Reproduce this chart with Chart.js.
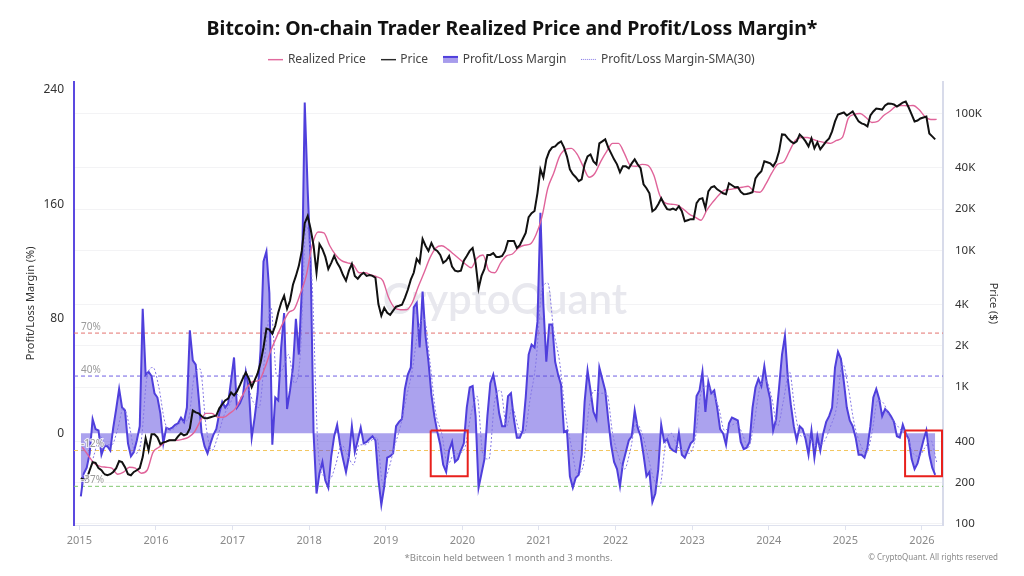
<!DOCTYPE html>
<html>
<head>
<meta charset="utf-8">
<style>
  html, body { margin: 0; padding: 0; background: #fff; }
  canvas { display: block; }
</style>
<script src="https://cdn.jsdelivr.net/npm/chart.js@4/dist/chart.umd.js"></script>
</head>
<body>
<canvas id="chart" width="1024" height="576"></canvas>
<script>
/* global Chart */
const seriesNames = ['Realized Price', 'Price', 'Profit/Loss Margin', 'Profit/Loss Margin-SMA(30)']
const yearTicks = [2015, 2016, 2017, 2018, 2019, 2020, 2021, 2022, 2023, 2024, 2025, 2026]
const marginTicks = [0, 80, 160, 240]
const priceTicks = [100, 200, 400, 1000, 2000, 4000, 10000, 20000, 40000, 100000]
const priceTickLabels = ['100', '200', '400', '1K', '2K', '4K', '10K', '20K', '40K', '100K']

// two samples a month
const marginValues = [
  -44, -28, -24, -14, 10, 3, 2, -15, -9, -9, -12, 4, 17, 31, 18, 16, -7, -16, -13, -5, 5, 87, 41, 43, 40, 28,
  25, 14, -7, 4, 3, 4, 6, 7, 11, 8, 18, 72, 51, 48, 25, 0, -9, -14, -7, -1, 3, 14, 22, 18, 21, 37,
  53, 18, 21, 26, 43, 32, -3, 11, 28, 58, 120, 127, 98, -8, 25, 23, 60, 84, 17, 30, 46, 80, 55, 100, 231, 170,
  120, 0, -42, -28, -20, -33, -38, -16, -2, 6, -8, -18, -27, -16, 5, -13, -5, 4, -7, -6, -4, -2, -5, -32, -50, -37,
  -17, -16, -14, 5, 8, 10, 31, 41, 46, 88, 91, 60, 99, 68, 50, 27, 12, 1, -8, -22, -27, -12, -6, -20, -18, -12,
  -7, 18, 32, 33, 12, -38, -28, -18, 12, 35, 41, 30, 14, 5, 5, 26, 28, 10, -3, -3, 2, 25, 55, 62, 60, 78,
  154, 90, 50, 76, 76, 50, 41, 34, 1, 2, -30, -38, -31, -29, -15, 22, 44, 30, 15, 10, 46, 38, 30, 10, -8, -20,
  -25, -37, -21, -13, -5, -2, 16, 4, -2, -15, -30, -27, -48, -42, -25, 6, -6, -4, -10, -12, -13, 0, -15, -17, -12, -7,
  -5, 26, 30, 43, 15, 36, 28, 30, 18, 3, 0, -8, 7, 11, 10, 9, -6, -11, -10, -6, 18, 32, 38, 33, 47, 33,
  24, 2, 10, 32, 55, 68, 38, 20, 5, -5, 5, 3, -4, -15, 2, -17, -2, -12, 0, 8, 12, 18, 46, 57, 52, 36,
  18, 9, 5, -3, -15, -15, -17, -10, 5, 25, 31, 24, 12, 17, 15, 12, 8, -2, -3, 6, 0, -4, -18, -25, -21, -13,
  -5, 2, -15, -24, -29,
]
const priceValues = [
  216, 210, 215, 247, 283, 280, 256, 247, 231, 227, 231, 240, 256, 288, 283, 260, 231, 227, 240, 247, 256, 308, 423, 346, 453, 453,
  430, 383, 395, 400, 409, 409, 409, 437, 460, 445, 453, 500, 676, 654, 643, 612, 592, 592, 602, 612, 622, 700, 750, 800, 825, 915,
  870, 930, 1035, 1160, 1280, 1160, 1000, 1120, 1260, 1510, 1950, 2680, 2630, 2460, 2810, 3500, 4140, 4650, 3740, 4280, 5600, 6500, 7700, 9900, 15800, 17800,
  14300, 10800, 6850, 11100, 10200, 8950, 7300, 8100, 9100, 8100, 7450, 6600, 6000, 7100, 7950, 6500, 6200, 6600, 6850, 6500, 6600, 6500, 6300, 4050, 3330, 3800,
  3500, 3380, 3620, 3870, 3930, 4000, 4500, 5150, 6100, 6850, 8650, 8100, 12100, 10800, 9900, 11300, 10200, 9900, 9250, 8100, 8400, 9100, 7600, 7100, 7000, 7100,
  8400, 9100, 9900, 10400, 8100, 5250, 6500, 7300, 9250, 9250, 9550, 8950, 8950, 9100, 9900, 11700, 11700, 11700, 10400, 10900, 12100, 13400, 17500, 18700, 19400, 26200,
  39100, 34200, 46200, 52900, 56500, 57500, 60500, 62500, 56500, 48600, 39100, 36000, 34200, 32000, 33000, 42500, 48600, 50200, 44700, 42500, 60500, 62500, 64700, 56500, 51100, 46200,
  42500, 37200, 41100, 41100, 39800, 43200, 46200, 42500, 39800, 30400, 28400, 26100, 19300, 20000, 21700, 24000, 21700, 20000, 19800, 20200, 19700, 21000, 19300, 16300, 16600, 16900,
  16900, 22100, 23700, 24000, 20300, 27000, 28900, 29400, 27900, 27000, 26100, 25700, 30900, 29900, 28900, 29000, 26800, 25700, 25800, 26100, 26600, 33600, 36000, 37800, 44700, 44000,
  43200, 41100, 44700, 52900, 70300, 70000, 65800, 62500, 60500, 62500, 70300, 66800, 62500, 57500, 65800, 55600, 61500, 54700, 58500, 62500, 65800, 74000, 87500, 98400, 100000, 101700,
  96700, 100000, 103400, 95100, 87500, 84600, 83200, 80400, 96700, 103400, 108700, 108000, 106900, 114400, 118200, 118000, 116300, 112400, 116000, 120200, 122300, 110600, 98400, 87500, 88900, 92000,
  93500, 95000, 71500, 68000, 64700,
]

// one sample every four weeks, these two are smooth enough
const realizedValues = [
  364, 318, 278, 264, 260, 256, 231, 239, 260, 256, 235, 247, 334,
  364, 395, 409, 409, 416, 430, 468, 562, 643, 643, 602, 602, 643,
  700, 841, 1000, 1100, 1120, 1390, 1850, 2340, 2910, 3500, 3740, 4810, 6500,
  10800, 13600, 13400, 10800, 9250, 8400, 8100, 7830, 6850, 6850, 6600, 6400, 6000,
  4500, 3800, 3680, 3680, 4140, 5400, 6850, 8800, 10400, 10800, 10200, 9400, 8650,
  7950, 7450, 8800, 9250, 7100, 6850, 8100, 9100, 9400, 10400, 10900, 11100, 13000,
  17500, 28400, 36600, 48600, 54700, 55600, 50200, 41100, 34200, 36600, 44700, 52900, 60500,
  60500, 51100, 41800, 41100, 42500, 41800, 35300, 25300, 22100, 21700, 21400, 20000, 18400,
  17500, 16600, 19700, 22500, 25300, 27500, 27900, 28400, 28900, 29400, 27000, 26600, 30400,
  36600, 42500, 44000, 52900, 63600, 66800, 66800, 64700, 62500, 61500, 60500, 63600, 66800,
  92000, 98400, 100000, 93500, 86000, 87500, 96700, 103400, 112400, 114400, 114000, 114400, 106900,
  95100, 90400, 90500,
]
const smaValues = [
  -35, -30, -15, -2, -8, -8, 3, 18, 5, -14, -5, 40, 46,
  32, 8, 2, 5, 8, 10, 40, 45, 5, -12, -2, 12, 20,
  28, 25, 32, 22, 18, 55, 88, 40, 45, 55, 35, 55, 145,
  105, -10, -30, -32, -22, -8, -15, -22, -8, -8, -5, -3, -35,
  -25, -9, 5, 25, 44, 72, 80, 50, 14, 0, -22, -15, -14,
  -9, 14, 26, -15, -18, 23, 30, 5, 18, 4, 0, 24, 50,
  100, 105, 72, 50, 14, -9, -28, -23, 18, 30, 28, 28, 0,
  -16, -25, -12, 7, 0, -16, -32, -37, -7, 0, -9, -12, -14,
  -4, 28, 33, 28, 18, 2, 5, 7, 0, -10, 7, 32, 37,
  25, 5, 23, 43, 14, -2, -1, -7, -9, -5, 5, 18, 49,
  32, 7, -7, -14, 0, 23, 21, 12, 7, 2, -2, -14, -16,
  -10, -5, -20,
]

const refLevels = [70, 40, -12, -37]
const refLabels = ['70%', '40%', '-12%', '-37%']
const refColours = ['#e4736f', '#6f5fe3', '#f3c75f', '#84c873']

// the two red boxes: year from, year to, margin top, margin bottom
const boxFrom = [2019.587, 2025.78]
const boxTo = [2020.07, 2026.262]
const boxTop = [2, 2]
const boxBottom = [-30, -30]

const xMin = 2014.93
const xMax = 2026.275

const toPoints = (values, perYear) => values.map((y, i) => ({ x: 2015 + (i + 0.5) / perYear, y }))

const legendIcon = (draw) => {
  const c = document.createElement('canvas')
  c.width = 15
  c.height = 9
  draw(c.getContext('2d'))
  return c
}

const legendIcons = [
  legendIcon((g) => {
    g.fillStyle = '#e0649a'
    g.fillRect(0, 4, 15, 1.4)
  }),
  legendIcon((g) => {
    g.fillStyle = '#222'
    g.fillRect(0, 4, 15, 1.4)
  }),
  legendIcon((g) => {
    g.fillStyle = '#a79cec'
    g.fillRect(0, 2, 15, 6)
    g.fillStyle = '#4f3fdc'
    g.fillRect(0, 1, 15, 2)
  }),
  legendIcon((g) => {
    g.fillStyle = '#8477e6'
    for (let x = 0; x < 15; x += 2) g.fillRect(x, 4, 1, 1)
  }),
]

const overlayText = {
  id: 'overlayText',
  beforeDatasetsDraw(chart) {
    const { ctx } = chart
    ctx.save()
    ctx.font = '600 42px Lato'
    ctx.fillStyle = '#e8e8ee'
    ctx.textAlign = 'center'
    ctx.textBaseline = 'middle'
    ctx.fillText('CryptoQuant', 505, 300)
    ctx.restore()
  },
  afterDatasetsDraw(chart) {
    const { ctx } = chart
    const margin = chart.scales.margin
    ctx.save()
    ctx.font = '10px "Noto Sans"'
    ctx.textAlign = 'left'
    ctx.textBaseline = 'middle'
    ctx.lineWidth = 2
    ctx.strokeStyle = 'rgba(255,255,255,0.8)'
    ctx.fillStyle = '#9a9a9a'
    refLabels.forEach((label, i) => {
      const y = margin.getPixelForValue(refLevels[i]) - 6
      ctx.strokeText(label, 81, y)
      ctx.fillText(label, 81, y)
    })
    ctx.restore()
  },
  afterDraw(chart) {
    const { ctx } = chart
    ctx.save()
    ctx.textBaseline = 'middle'
    ctx.font = '9.6px "Noto Sans"'
    ctx.fillStyle = '#8a8a8a'
    ctx.textAlign = 'center'
    ctx.fillText('*Bitcoin held between 1 month and 3 months.', 508.5, 558)
    ctx.font = '8px "Noto Sans"'
    ctx.textAlign = 'right'
    ctx.fillText('© CryptoQuant. All rights reserved', 998, 558)
    ctx.restore()
  },
}

const refDatasets = refLevels.map((level, i) => ({
  label: refLabels[i],
  yAxisID: 'margin',
  data: [{ x: xMin, y: level }, { x: xMax, y: level }],
  borderColor: refColours[i],
  borderWidth: 1,
  borderDash: [4, 3],
  pointRadius: 0,
}))

const boxDatasets = boxFrom.map((from, i) => ({
  label: 'box',
  yAxisID: 'margin',
  data: [
    { x: from, y: boxTop[i] },
    { x: boxTo[i], y: boxTop[i] },
    { x: boxTo[i], y: boxBottom[i] },
    { x: from, y: boxBottom[i] },
    { x: from, y: boxTop[i] },
  ],
  borderColor: '#e8201c',
  borderWidth: 2,
  pointRadius: 0,
}))

new Chart(document.getElementById('chart'), {
  type: 'line',
  data: {
    datasets: [
      ...boxDatasets,
      {
        label: seriesNames[1],
        yAxisID: 'price',
        data: toPoints(priceValues, 26),
        borderColor: '#111',
        borderWidth: 2,
        pointRadius: 0,
      },
      {
        label: seriesNames[0],
        yAxisID: 'price',
        data: toPoints(realizedValues, 13),
        borderColor: '#e0649a',
        borderWidth: 1.4,
        pointRadius: 0,
        cubicInterpolationMode: 'monotone',
      },
      {
        label: seriesNames[3],
        yAxisID: 'margin',
        data: toPoints(smaValues, 13),
        borderColor: '#8477e6',
        borderWidth: 1,
        borderDash: [2, 2],
        pointRadius: 0,
        cubicInterpolationMode: 'monotone',
      },
      {
        label: seriesNames[2],
        yAxisID: 'margin',
        data: toPoints(marginValues, 26),
        borderColor: '#4f3fdc',
        backgroundColor: 'rgba(88,70,222,0.5)',
        borderWidth: 2,
        pointRadius: 0,
        fill: { target: { value: 0 } },
      },
      ...refDatasets,
    ],
  },
  plugins: [overlayText],
  options: {
    responsive: false,
    animation: false,
    layout: { padding: { top: 0, left: 0, right: 0, bottom: 0 } },
    plugins: {
      title: {
        display: true,
        text: 'Bitcoin: On-chain Trader Realized Price and Profit/Loss Margin*',
        color: '#111',
        font: { family: '"Noto Sans"', size: 19.5, weight: '700' },
        padding: { top: 18, bottom: -4 },
      },
      // empty line under the legend, only there to push the plot down a little
      subtitle: {
        display: true,
        text: ' ',
        weight: 500,
        font: { size: 1 },
        padding: { top: 0, bottom: 5 },
      },
      legend: {
        display: true,
        labels: {
          color: '#444',
          font: { family: '"Noto Sans"', size: 12 },
          usePointStyle: true,
          pointStyleWidth: 12.5,
          padding: 16,
          generateLabels: () => seriesNames.map((text, i) => ({
            text,
            pointStyle: legendIcons[i],
            fontColor: '#444',
            datasetIndex: i,
          })),
        },
        onClick: null,
      },
      tooltip: { enabled: false },
    },
    scales: {
      x: {
        type: 'linear',
        min: xMin,
        max: xMax,
        afterBuildTicks: (scale) => {
          scale.ticks = yearTicks.map((value) => ({ value }))
        },
        afterFit: (scale) => {
          scale.height = 51
        },
        ticks: {
          color: '#8a8a8a',
          font: { family: '"Noto Sans"', size: 11 },
          padding: 4,
          maxRotation: 0,
          callback: (value) => String(value),
        },
        grid: { drawOnChartArea: false, tickLength: 5, color: '#dfe2ee' },
        border: { color: '#dfe2ee', width: 1 },
      },
      margin: {
        position: 'left',
        min: -64,
        max: 245.6,
        afterBuildTicks: (scale) => {
          scale.ticks = marginTicks.map((value) => ({ value }))
        },
        afterFit: (scale) => {
          scale.width = 74
        },
        ticks: {
          color: '#333',
          font: { family: '"Noto Sans"', size: 12 },
          padding: 10,
        },
        title: {
          display: true,
          text: 'Profit/Loss Margin (%)',
          color: '#333',
          font: { family: '"Noto Sans"', size: 11 },
          padding: { top: 24, bottom: 0 },
        },
        grid: { display: false, drawTicks: false },
        border: { color: '#5b49e0', width: 2 },
      },
      price: {
        type: 'logarithmic',
        position: 'right',
        min: 98.3,
        max: 171000,
        afterBuildTicks: (scale) => {
          scale.ticks = priceTicks.map((value) => ({ value }))
        },
        afterFit: (scale) => {
          scale.width = 81
        },
        ticks: {
          color: '#333',
          font: { family: '"Noto Sans"', size: 11.5 },
          padding: 12,
          autoSkip: false,
          callback: (value) => priceTickLabels[priceTicks.indexOf(value)],
        },
        title: {
          display: true,
          text: 'Price ($)',
          color: '#333',
          font: { family: '"Noto Sans"', size: 11 },
          padding: { top: 24, bottom: 0 },
        },
        grid: { color: '#f3f3f5', drawTicks: false, lineWidth: 1 },
        border: { color: '#d8dbea', width: 2 },
      },
    },
  },
})
</script>
</body>
</html>
